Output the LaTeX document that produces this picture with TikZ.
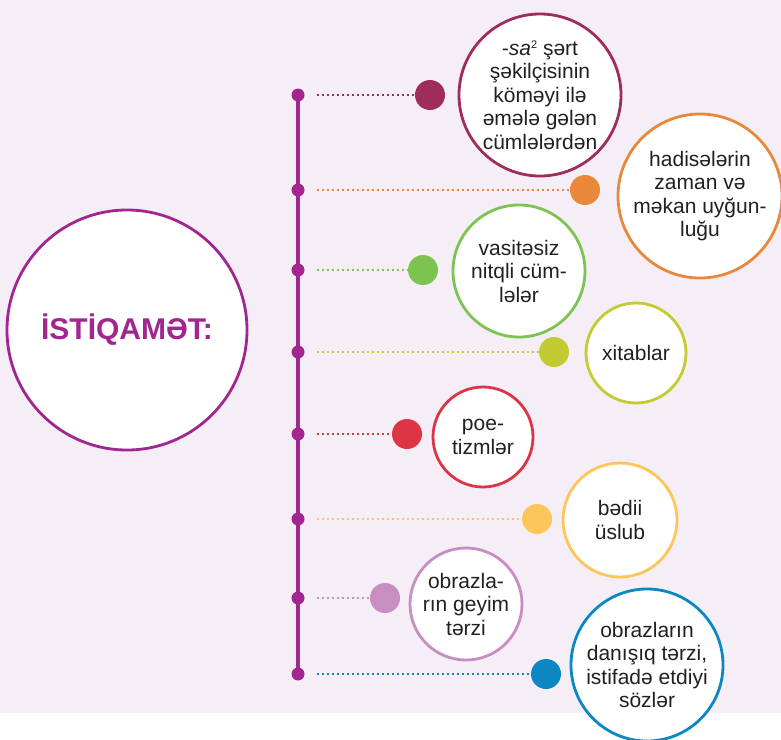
\documentclass[tikz,border=0pt]{standalone}
\usepackage{fontspec}
\setmainfont{Liberation Sans}
\definecolor{bgc}{HTML}{F5EEF6}
\definecolor{mainp}{HTML}{A1268F}
\definecolor{txt}{HTML}{231F20}
\definecolor{ca}{HTML}{9E2D5D}
\definecolor{cb}{HTML}{E9883A}
\definecolor{cc}{HTML}{7DC352}
\definecolor{cd}{HTML}{C3CB32}
\definecolor{ce}{HTML}{DE3546}
\definecolor{cf}{HTML}{FDC65B}
\definecolor{cg}{HTML}{C88DC1}
\definecolor{ch}{HTML}{0B88C3}
\tikzset{
  smalldot/.style={circle, fill=mainp, inner sep=0pt, minimum size=13pt},
  bigdot/.style={circle, inner sep=0pt, minimum size=30pt},
  dotline/.style={line width=2pt, dash pattern=on 2pt off 3pt, shorten <=12pt},
  bubble/.style={circle, fill=white, line width=2.8pt, inner sep=0pt, align=center,
    text=txt, font=\fontsize{21}{23.5}\selectfont},
}
\begin{document}
\begin{tikzpicture}[x=1pt, y=-1pt]
\useasboundingbox (0,0) rectangle (781,739);
\fill[white] (0,0) rectangle (781,739);
\fill[bgc] (0,0) rectangle (781,713);

% main circle
\node[circle, fill=white, draw=mainp, line width=2.8pt, minimum size=240pt, inner sep=0pt,
  text=mainp, font=\fontsize{30}{34}\selectfont\bfseries] (main) at (127,330) {İSTİQAMƏT:};

% vertical line
\coordinate (top) at (298,95);
\coordinate (bot) at (298,674);
\draw[mainp, line width=4.5pt] (top) -- (bot);

% small dots on the line
\node[smalldot] (s1) at (298,95) {};
\node[smalldot] (s2) at (298,190) {};
\node[smalldot] (s3) at (298,270) {};
\node[smalldot] (s4) at (298,352) {};
\node[smalldot] (s5) at (298,434) {};
\node[smalldot] (s6) at (298,519) {};
\node[smalldot] (s7) at (298,598) {};
\node[smalldot] (s8) at (298,674) {};

% coloured dots
\node[bigdot, fill=ca] (d1) at (430,95) {};
\node[bigdot, fill=cb] (d2) at (585,190) {};
\node[bigdot, fill=cc] (d3) at (423,270) {};
\node[bigdot, fill=cd] (d4) at (554,352) {};
\node[bigdot, fill=ce] (d5) at (407,434) {};
\node[bigdot, fill=cf] (d6) at (537,519) {};
\node[bigdot, fill=cg] (d7) at (385,598) {};
\node[bigdot, fill=ch] (d8) at (546,674) {};

% dotted connectors
\draw[dotline, ca] (s1) -- (d1);
\draw[dotline, cb] (s2) -- (d2);
\draw[dotline, cc] (s3) -- (d3);
\draw[dotline, cd] (s4) -- (d4);
\draw[dotline, ce] (s5) -- (d5);
\draw[dotline, cf] (s6) -- (d6);
\draw[dotline, cg] (s7) -- (d7);
\draw[dotline, ch] (s8) -- (d8);

% bubbles
\node[bubble, draw=ca, minimum size=162pt] (b1) at (540,95)
  {-\textit{sa}\raisebox{7pt}{\fontsize{11}{11}\selectfont 2} şərt\\şəkilçisinin\\köməyi ilə\\əmələ gələn\\cümlələrdən};
\node[bubble, draw=cb, minimum size=164pt] (b2) at (700,196)
  {hadisələrin\\zaman və\\məkan uyğun-\\luğu};
\node[bubble, draw=cc, minimum size=132pt] (b3) at (519,271)
  {vasitəsiz\\nitqli cüm-\\lələr};
\node[bubble, draw=cd, minimum size=100pt] (b4) at (636,353)
  {xitablar};
\node[bubble, draw=ce, minimum size=100pt] (b5) at (483,437)
  {poe-\\tizmlər};
\node[bubble, draw=cf, minimum size=114pt] (b6) at (620,520)
  {bədii\\üslub};
\node[bubble, draw=cg, minimum size=112pt] (b7) at (466,604)
  {obrazla-\\rın geyim\\tərzi};
\node[bubble, draw=ch, minimum size=152pt] (b8) at (647,665)
  {obrazların\\danışıq tərzi,\\istifadə etdiyi\\sözlər};
\end{tikzpicture}
\end{document}
